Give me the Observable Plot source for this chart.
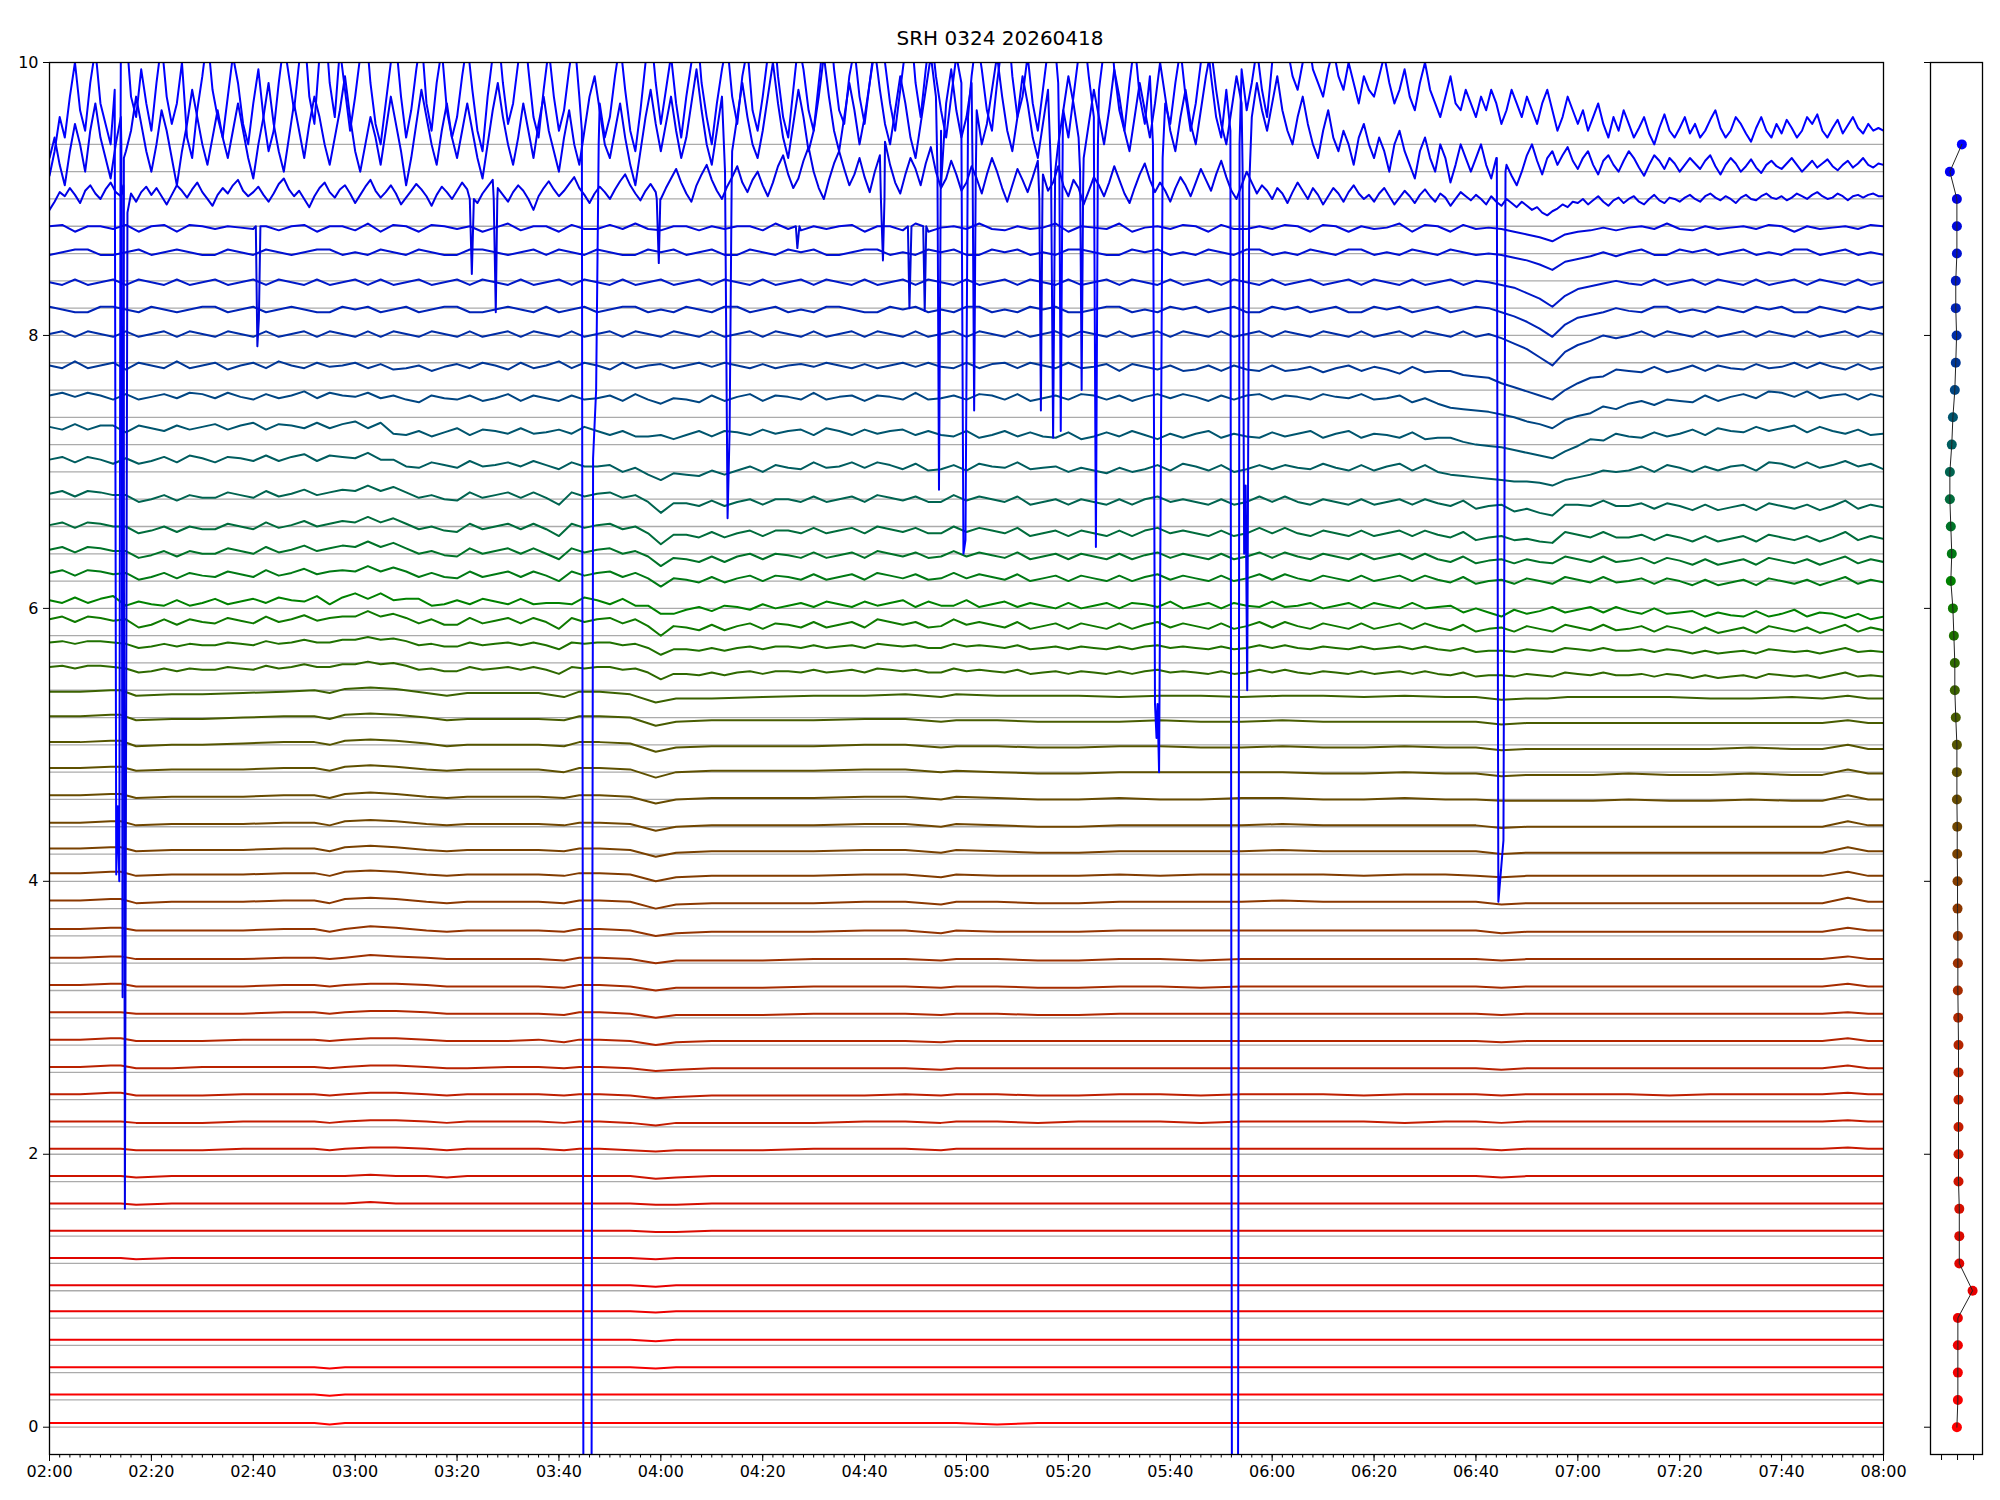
<!DOCTYPE html>
<html><head><meta charset="utf-8">
<script src="https://cdn.jsdelivr.net/npm/d3@7"></script>
<script src="https://cdn.jsdelivr.net/npm/@observablehq/plot@0.6"></script>
<style>
body{margin:0;background:#fff;font-family:"DejaVu Sans",sans-serif;}
#title{width:2000px;height:58px;box-sizing:border-box;padding-top:28px;line-height:20px;font-size:20px;text-align:center;color:#000;}
#row{display:flex;width:2000px;height:1442px;}
#main svg,#side svg{overflow:visible;}
</style></head><body>
<div id="title">SRH 0324 20260418</div>
<div id="row"><div id="main"></div><div id="side"></div></div>
<script>
// ---- sample times (minutes after 02:00) ----
const timesLow = [0,6,12,14,17,24,30,38,46,52,55,58,63,68,74,78,82,90,96,101,104,108,114,119,123,130,140,150,160,168,175,178,186,194,202,210,218,226,234,242,250,258,266,274,280,285,290,294,298,303,310,318,326,334,342,348,353,357,360];
const timesMid = d3.range(0, 361, 2.5);
const timesTop = d3.range(0, 361, 1);

// ---- tick labels ----
const xTickMinutes = [0,20,40,60,80,100,120,140,160,180,200,220,240,260,280,300,320,340,360];
const xTickLabels = ["02:00","02:20","02:40","03:00","03:20","03:40","04:00","04:20","04:40","05:00","05:20","05:40","06:00","06:20","06:40","07:00","07:20","07:40","08:00"];
const xMinorMinutes = d3.range(0, 361, 2);
const yTicks = [0,2,4,6,8,10];

// ---- channel baselines ----
const baselines = [0,0.2,0.4,0.6,0.8,1.0,1.2,1.4,1.6,1.8,2.0,2.2,2.4,2.6,2.8,3.0,3.2,3.4,3.6,3.8,4.0,4.2,4.4,4.6,4.8,5.0,5.2,5.4,5.6,5.8,6.0,6.2,6.4,6.6,6.8,7.0,7.2,7.4,7.6,7.8,8.0,8.2,8.4,8.6,8.8,9.0,9.2,9.4];

// ---- channels 0..27 on timesLow: deviation from baseline, hundredths ----
const tracesLow = [
[3,3,3,3,3,3,3,3,3,3, 2,3,3,3,3,3,3,3,3,3, 3,3,3,3,3,3,3,3,3,3, 3,3,2,3,3,3,3,3,3,3, 3,3,3,3,3,3,3,3,3,3, 3,3,3,3,3,3,3,3,3],
[4,4,4,4,4,4,4,4,4,4, 3,4,4,4,4,4,4,4,4,4, 4,4,4,4,4,4,4,4,4,4, 4,4,4,4,4,4,4,4,4,4, 4,4,4,4,4,4,4,4,4,4, 4,4,4,4,4,4,4,4,4],
[4,4,4,4,4,4,4,4,4,4, 3,4,4,4,4,4,4,4,4,4, 4,4,4,3,4,4,4,4,4,4, 4,4,4,4,4,4,4,4,4,4, 4,4,4,4,4,4,4,4,4,4, 4,4,4,4,4,4,4,4,4],
[4,4,4,4,4,4,4,4,4,4, 4,4,4,4,4,4,4,4,4,4, 4,4,4,3,4,4,4,4,4,4, 4,4,4,4,4,4,4,4,4,4, 4,4,4,4,4,4,4,4,4,4, 4,4,4,4,4,4,4,4,4],
[5,5,5,5,5,5,5,5,5,5, 5,5,5,5,5,5,5,5,5,5, 5,5,5,4,5,5,5,5,5,5, 5,5,5,5,5,5,5,5,5,5, 5,5,5,5,5,5,5,5,5,5, 5,5,5,5,5,5,5,5,5],
[4,4,4,4,4,4,4,4,4,4, 4,4,4,4,4,4,4,4,4,4, 4,4,4,3,4,4,4,4,4,4, 4,4,4,4,4,4,4,4,4,4, 4,4,4,4,4,4,4,4,4,4, 4,4,4,4,4,4,4,4,4],
[4,4,4,4,3,4,4,4,4,4, 4,4,4,4,4,4,4,4,4,4, 4,4,4,3,4,4,4,4,4,4, 4,4,4,4,4,4,4,4,4,4, 4,4,4,4,4,4,4,4,4,4, 4,4,4,4,4,4,4,4,4],
[4,4,4,4,4,4,4,4,4,4, 4,4,4,4,4,4,4,4,4,4, 4,4,4,3,3,4,4,4,4,4, 4,4,4,4,4,4,4,4,4,4, 4,4,4,4,4,4,4,4,4,4, 4,4,4,4,4,4,4,4,4],
[4,4,4,4,3,4,4,4,4,4, 4,4,5,4,4,4,4,4,4,4, 4,4,4,3,3,4,4,4,4,4, 4,4,4,4,4,4,4,4,4,4, 4,4,4,4,4,4,4,4,4,4, 4,4,4,4,4,4,4,4,4],
[4,4,4,4,3,4,4,4,4,4, 4,4,5,4,4,3,4,4,4,4, 4,4,4,2,3,4,4,4,4,4, 4,4,4,4,4,4,4,4,4,4, 4,4,4,4,4,3,4,4,4,4, 4,4,4,4,4,4,4,4,4],
[4,4,4,4,3,3,3,4,4,4, 3,4,5,5,4,3,4,4,4,3, 4,4,3,2,3,3,3,4,4,4, 3,4,4,4,4,4,4,4,4,4, 4,4,4,4,4,3,4,4,4,4, 4,4,4,4,4,4,5,4,4],
[4,4,4,4,3,3,3,4,4,4, 3,4,5,5,4,3,4,4,4,3, 4,4,3,1,3,3,3,3,4,4, 3,4,4,3,4,4,4,3,4,4, 4,4,3,4,4,3,4,4,4,4, 4,4,4,4,4,4,5,4,4],
[4,4,5,5,3,3,3,4,4,4, 3,4,5,5,4,3,4,4,4,3, 4,4,3,1,2,3,3,3,3,4, 3,4,4,3,3,4,4,3,4,4, 4,3,4,4,4,3,4,4,4,4, 4,3,4,4,4,4,5,4,4],
[4,4,5,5,3,3,4,4,4,4, 3,4,5,5,4,3,3,4,4,3, 4,4,3,1,2,3,3,3,3,3, 2,3,3,3,3,3,3,3,3,3, 3,3,3,3,3,2,3,3,3,3, 3,3,3,3,3,3,5,3,3],
[4,4,5,5,3,3,3,4,4,4, 3,4,5,5,4,3,3,3,4,2, 4,4,3,0,2,3,3,3,3,3, 2,3,3,3,3,3,3,3,3,3, 3,3,3,3,3,2,3,3,3,3, 3,3,3,3,3,3,5,3,3],
[4,4,4,4,3,3,3,3,4,4, 3,4,5,5,4,3,3,3,3,2, 4,4,3,0,2,2,2,3,3,3, 2,3,3,2,2,3,3,3,3,3, 3,3,3,3,3,2,3,3,3,3, 3,3,3,3,3,3,4,3,3],
[4,4,5,5,3,3,3,3,4,4, 3,4,5,5,4,3,3,3,3,2, 4,4,3,0,2,2,2,3,3,3, 2,3,3,2,2,3,3,2,3,3, 3,3,3,3,3,2,3,3,3,3, 3,3,3,3,3,3,5,3,3],
[4,4,5,5,3,3,3,3,4,4, 3,4,6,5,4,3,3,3,3,2, 4,4,3,0,2,2,2,3,3,3, 2,3,3,2,2,3,3,2,3,3, 3,3,3,3,3,2,3,3,3,3, 3,3,3,3,3,3,5,3,3],
[5,5,6,6,4,4,4,4,5,5, 3,5,7,6,4,3,4,4,4,3, 5,5,4,0,2,3,3,3,4,4, 2,4,3,3,3,4,4,4,4,4, 4,4,4,4,4,2,3,3,3,3, 3,3,3,3,3,3,6,4,4],
[6,6,7,7,4,5,5,5,6,6, 4,7,8,7,5,4,5,5,5,4, 6,6,5,0,3,4,4,4,5,5, 3,5,5,4,4,5,5,5,5,6, 5,5,5,5,5,3,4,4,4,4, 4,4,4,4,4,4,8,5,5],
[6,6,7,7,4,5,5,5,6,6, 4,7,8,7,5,4,5,5,5,4, 6,6,5,0,3,4,4,4,5,5, 3,5,4,4,4,5,4,5,5,5, 5,4,5,5,4,3,4,4,4,4, 4,4,4,4,4,4,7,4,4],
[4,4,5,5,2,3,3,3,4,4, 2,5,6,5,3,2,3,3,3,2, 4,4,3,-2,1,2,2,2,3,3, 1,3,2,1,1,2,2,2,2,3, 2,2,2,2,2,0,1,1,1,1, 1,1,1,1,1,1,5,2,2],
[3,3,4,4,1,2,2,2,3,3, 1,4,5,4,2,1,2,2,2,1, 3,3,2,-3,0,1,1,1,2,2, 0,2,1,0,0,1,1,1,1,2, 1,1,1,1,1,-1,0,0,0,0, 0,0,0,0,0,0,4,1,1],
[3,3,4,4,1,2,2,2,3,3, 1,4,5,4,2,1,2,2,2,1, 3,3,2,-3,0,1,1,1,2,2, 0,2,1,0,0,1,0,0,1,1, 0,0,1,0,0,-1,-1,-1,-1,-1, 0,-1,-1,0,-1,-1,3,0,0],
[3,3,4,4,1,2,2,2,3,3, 1,4,5,4,2,1,2,2,2,0, 3,3,2,-4,0,1,1,1,2,2, 0,1,0,-1,-1,0,0,0,0,0, -1,-1,0,-1,-1,-3,-2,-2,-2,-2, -1,-2,-2,-1,-2,-2,2,-1,-1],
[2,2,3,3,-1,0,0,1,2,2, 0,3,4,3,1,-1,0,0,0,-1, 2,2,1,-5,-2,-1,-1,-1,0,0, -2,-1,-1,-2,-2,-1,-1,-2,-2,-1, -2,-2,-1,-2,-2,-4,-3,-3,-3,-3, -3,-3,-3,-2,-3,-3,0,-3,-3],
[1,1,2,2,-2,-1,-1,0,1,1, -1,2,3,2,0,-2,-1,-1,-1,-2, 1,1,0,-6,-3,-2,-2,-2,-1,-1, -3,-2,-2,-3,-3,-3,-2,-3,-3,-2, -3,-3,-3,-3,-3,-5,-4,-4,-4,-4, -4,-4,-4,-4,-4,-4,-2,-4,-4],
[-1,-1,0,0,-4,-3,-3,-2,-1,0, -2,1,2,1,-2,-4,-2,-2,-2,-5, -1,-1,-3,-9,-6,-6,-5,-4,-4,-3, -5,-3,-4,-4,-4,-5,-4,-4,-5,-4, -4,-5,-4,-5,-5,-7,-6,-6,-5,-5, -5,-5,-6,-6,-5,-6,-4,-6,-6]
];

// ---- channels 28..44 on timesMid (every 2.5 min) ----
const tracesMid = [
[-3,-2,-4,-2,-2,-3,-4,-7,-6,-4, -6,-4,-5,-5,-3,-4,-5,-2,-4,-3, -1,-3,-3,-1,-1,1,-1,0,-2,-5, -4,-6,-6,-3,-5,-4,-3,-5,-3,-5, -8,-3,-4,-3,-3,-5,-4,-7,-12,-8, -8,-9,-7,-9,-7,-6,-8,-6,-6,-7, -5,-7,-6,-5,-7,-4,-5,-6,-5,-7, -7,-4,-6,-5,-6,-7,-5,-8,-7,-6, -8,-6,-7,-8,-6,-8,-6,-5,-7,-6, -7,-8,-6,-8,-7,-5,-7,-5,-7,-8, -6,-7,-8,-6,-8,-7,-6,-8,-6,-8, -9,-7,-10,-9,-9,-10,-8,-9,-10,-7, -8,-9,-7,-9,-9,-8,-10,-8,-9,-11, -9,-11,-10,-9,-11,-8,-9,-10,-9,-11, -9,-7,-10,-9,-10],
[-5,-4,-6,-4,-4,-5,-6,-9,-8,-6, -8,-6,-7,-7,-5,-6,-7,-4,-6,-5, -3,-5,-5,-3,-3,-1,-3,-2,-4,-7, -6,-8,-8,-5,-7,-6,-5,-7,-5,-7, -10,-5,-6,-5,-5,-7,-6,-9,-14,-10, -10,-11,-9,-11,-9,-8,-10,-8,-8,-9, -7,-9,-8,-7,-9,-6,-7,-8,-7,-9, -9,-6,-8,-7,-8,-9,-7,-10,-9,-8, -10,-8,-9,-10,-8,-10,-8,-7,-9,-8, -9,-10,-8,-10,-9,-7,-9,-7,-9,-10, -8,-9,-10,-8,-10,-9,-8,-10,-8,-10, -11,-9,-12,-11,-11,-12,-10,-11,-12,-9, -10,-11,-9,-11,-11,-10,-12,-10,-11,-13, -11,-13,-12,-11,-13,-10,-11,-12,-11,-13, -11,-9,-12,-11,-12],
[-8,-6,-10,-6,-7,-9,-8,-14,-12,-8, -12,-8,-10,-11,-7,-9,-11,-6,-10,-8, -5,-9,-7,-6,-6,-2,-6,-4,-7,-11, -8,-12,-12,-7,-11,-9,-7,-11,-7,-10, -15,-7,-10,-8,-7,-11,-8,-13,-20,-13, -14,-16,-12,-16,-13,-11,-15,-11,-12,-14, -10,-14,-12,-10,-14,-8,-10,-12,-10,-14, -13,-8,-12,-10,-12,-14,-10,-15,-13,-11, -15,-11,-13,-15,-11,-15,-12,-10,-14,-11, -13,-15,-11,-15,-13,-10,-14,-10,-13,-15, -11,-13,-15,-11,-15,-13,-11,-15,-11,-14, -16,-12,-17,-15,-14,-17,-13,-15,-17,-12, -14,-16,-12,-16,-15,-13,-17,-13,-15,-18, -14,-18,-16,-14,-18,-13,-15,-17,-14,-18, -15,-12,-17,-14,-16],
[-14,-16,-12,-16,-13,-11,-18,-15,-17,-18, -14,-18,-16,-13,-17,-15,-13,-16,-12,-14, -15,-11,-17,-12,-9,-13,-9,-14,-13,-13, -18,-17,-14,-17,-13,-15,-17,-13,-17,-16, -16,-17,-12,-14,-17,-13,-18,-18,-24,-24, -21,-19,-22,-18,-19,-21,-17,-20,-18,-16, -19,-15,-17,-19,-15,-18,-16,-14,-19,-15, -18,-18,-14,-19,-17,-15,-19,-16,-18,-20, -16,-20,-18,-16,-20,-16,-17,-19,-15,-20, -18,-16,-20,-16,-18,-19,-15,-19,-18,-16, -20,-18,-16,-20,-16,-18,-20,-16,-20,-19, -18,-23,-20,-23,-26,-21,-24,-22,-19,-23, -21,-19,-23,-19,-22,-24,-20,-24,-23,-22, -26,-23,-25,-26,-22,-26,-24,-21,-26,-23, -24,-27,-24,-28,-26],
[-14,-12,-16,-12,-13,-15,-14,-19,-17,-14, -18,-14,-16,-17,-13,-15,-17,-12,-16,-14, -11,-15,-13,-12,-13,-9,-13,-10,-13,-17, -14,-17,-18,-13,-17,-15,-13,-17,-13,-16, -20,-13,-16,-14,-13,-17,-14,-18,-24,-18, -19,-21,-17,-21,-18,-16,-20,-16,-17,-19, -15,-19,-17,-15,-19,-14,-16,-18,-15,-19, -18,-14,-18,-15,-17,-19,-15,-20,-18,-16, -20,-16,-18,-20,-16,-20,-17,-15,-19,-16, -18,-20,-16,-20,-18,-15,-19,-15,-18,-20, -16,-18,-20,-16,-20,-18,-16,-20,-16,-19, -21,-17,-22,-20,-19,-22,-18,-20,-22,-17, -19,-21,-17,-21,-20,-18,-22,-18,-20,-23, -19,-23,-21,-19,-23,-18,-20,-22,-19,-23, -20,-17,-22,-19,-21],
[-17,-15,-19,-15,-16,-18,-18,-23,-21,-18, -22,-18,-20,-20,-16,-18,-20,-15,-19,-17, -14,-18,-16,-14,-15,-11,-15,-12,-16,-20, -18,-21,-22,-16,-20,-18,-16,-20,-16,-20, -24,-16,-19,-17,-16,-20,-18,-22,-29,-23, -24,-26,-22,-26,-22,-20,-24,-20,-21,-23, -19,-23,-21,-19,-23,-18,-20,-22,-19,-23, -22,-18,-22,-19,-21,-23,-19,-24,-22,-20, -24,-20,-22,-24,-20,-24,-21,-19,-23,-20, -22,-24,-20,-24,-22,-19,-23,-19,-22,-24, -20,-22,-24,-20,-24,-22,-20,-24,-20,-24, -26,-22,-27,-25,-24,-27,-24,-26,-27,-22, -24,-26,-22,-26,-25,-23,-27,-23,-25,-28, -24,-28,-26,-24,-28,-23,-25,-27,-24,-28, -25,-22,-27,-24,-26],
[-19,-17,-21,-17,-18,-20,-20,-25,-23,-20, -24,-20,-22,-22,-18,-20,-22,-17,-21,-19, -16,-20,-18,-16,-17,-13,-17,-14,-18,-22, -20,-23,-24,-18,-22,-20,-18,-22,-18,-22, -27,-18,-21,-19,-18,-22,-20,-25,-33,-26, -26,-28,-24,-28,-25,-23,-27,-23,-23,-25, -21,-25,-23,-21,-25,-20,-22,-24,-21,-25, -25,-20,-24,-21,-23,-25,-21,-27,-25,-23, -27,-23,-25,-27,-23,-27,-23,-21,-25,-23, -25,-27,-23,-27,-25,-21,-25,-21,-25,-27, -23,-25,-27,-23,-27,-25,-23,-27,-23,-26, -28,-24,-30,-28,-27,-30,-29,-31,-32,-24, -26,-28,-24,-28,-28,-26,-30,-26,-28,-31, -27,-31,-29,-27,-31,-26,-28,-30,-27,-31, -28,-24,-30,-27,-29],
[-16,-14,-18,-14,-15,-17,-17,-22,-20,-17, -21,-17,-19,-19,-15,-17,-19,-14,-18,-16, -13,-17,-15,-13,-14,-10,-14,-11,-15,-19, -17,-20,-21,-15,-19,-17,-15,-19,-15,-19, -24,-15,-18,-16,-15,-19,-17,-22,-30,-23, -23,-25,-21,-25,-22,-20,-24,-20,-20,-22, -18,-22,-20,-18,-22,-17,-19,-21,-18,-22, -22,-17,-21,-18,-20,-22,-18,-24,-22,-20, -24,-20,-22,-24,-20,-24,-20,-18,-22,-20, -22,-24,-20,-24,-22,-18,-22,-18,-22,-24, -20,-22,-24,-20,-24,-22,-20,-24,-20,-23, -25,-21,-27,-25,-24,-29,-27,-30,-32,-24, -24,-25,-21,-25,-25,-23,-27,-23,-25,-28, -24,-28,-26,-24,-28,-23,-25,-27,-24,-28, -25,-21,-27,-24,-26],
[-11,-9,-13,-9,-11,-14,-10,-14,-12,-9, -13,-8,-10,-13,-9,-10,-12,-8,-12,-9, -7,-12,-8,-9,-10,-6,-11,-11,-16,-17, -13,-15,-17,-12,-16,-15,-13,-16,-12,-15, -18,-13,-16,-16,-15,-20,-17,-22,-26,-21, -22,-23,-19,-22,-19,-16,-20,-15,-17,-18, -13,-17,-16,-13,-17,-13,-15,-18,-14,-19, -18,-15,-19,-14,-16,-17,-13,-18,-17,-16, -20,-17,-19,-21,-17,-20,-18,-15,-19,-14, -16,-19,-15,-20,-18,-15,-18,-15,-17,-18, -14,-17,-19,-15,-19,-16,-14,-19,-15,-20, -22,-23,-24,-25,-26,-27,-27,-28,-30,-26, -24,-22,-19,-20,-19,-16,-20,-15,-17,-20, -16,-19,-16,-15,-19,-13,-14,-17,-13,-17, -15,-12,-16,-14,-18],
[-7,-9,-5,-9,-6,-6,-11,-6,-8,-10, -6,-9,-7,-5,-9,-6,-4,-9,-5,-6, -8,-4,-8,-5,-3,-8,-4,-12,-13,-10, -14,-11,-8,-13,-9,-10,-12,-8,-12,-11, -9,-12,-7,-10,-13,-10,-14,-14,-13,-16, -13,-10,-14,-10,-11,-13,-9,-12,-10,-9, -13,-8,-10,-13,-9,-12,-10,-9,-13,-10, -13,-14,-10,-15,-13,-10,-14,-11,-14,-15, -11,-16,-14,-11,-14,-10,-13,-16,-12,-15, -12,-10,-15,-12,-14,-15,-11,-14,-12,-10, -15,-12,-10,-15,-12,-13,-15,-11,-16,-15, -15,-18,-20,-21,-22,-24,-26,-28,-30,-25, -21,-16,-17,-12,-14,-15,-11,-14,-12,-9, -13,-8,-10,-11,-7,-10,-8,-6,-11,-7, -10,-12,-9,-13,-12],
[-4,-2,-5,-2,-4,-7,-3,-7,-5,-3, -6,-2,-3,-6,-2,-5,-7,-3,-6,-4, -1,-6,-2,-4,-5,-2,-6,-4,-7,-9, -4,-6,-7,-4,-8,-6,-3,-8,-4,-6, -8,-4,-7,-6,-4,-8,-3,-7,-10,-6, -7,-9,-4,-8,-5,-3,-8,-4,-5,-7, -2,-7,-5,-4,-8,-4,-5,-7,-2,-7, -6,-4,-7,-3,-4,-7,-3,-8,-6,-4, -7,-3,-4,-7,-4,-8,-5,-3,-6,-3, -5,-8,-4,-7,-4,-3,-7,-4,-5,-7, -3,-5,-6,-3,-7,-6,-4,-9,-6,-10, -13,-14,-15,-16,-18,-20,-23,-25,-28,-22, -19,-17,-12,-14,-10,-8,-11,-7,-8,-9, -4,-8,-5,-3,-6,-1,-2,-5,-1,-6, -4,-3,-7,-3,-5],
[-2,-4,1,-4,-2,0,-5,0,-2,-4, 1,-4,-2,0,-5,-2,0,-4,1,-2, -4,0,-3,-2,0,-4,-1,-5,-4,-2, -6,-3,-1,-4,0,-2,-5,0,-4,-2, 1,-4,0,-2,-5,0,-4,-2,-1,-4, -2,0,-3,0,-2,-4,-1,-4,-2,-1, -3,0,-2,-4,-1,-4,-2,0,-3,0, -3,-4,0,-4,-1,0,-4,0,-2,-4, 0,-4,-3,-1,-6,-1,-3,-5,-2,-6, -5,-2,-6,-2,-5,-6,-2,-6,-5,-3, -7,-4,-2,-6,-3,-5,-8,-3,-7,-6, -6,-9,-10,-11,-15,-18,-21,-24,-27,-20, -15,-11,-10,-5,-6,-7,-3,-7,-5,-2, -6,-2,-4,-5,-1,-4,-3,0,-4,0, -3,-5,-1,-5,-3],
[1,3,-1,3,1,-1,3,-1,1,3, -1,3,1,-1,3,1,-1,3,-1,1, 3,-1,3,1,-1,3,-1,3,1,-1, 3,1,-1,3,-1,1,3,-1,3,1, -1,3,-1,1,3,-1,3,1,-1,3, 1,-1,3,-1,1,3,-1,3,1,-1, 3,-1,1,3,-1,3,1,-1,3,-1, 1,3,-1,3,1,-1,3,-1,1,3, -1,3,1,-1,3,-1,1,3,-1,3, 1,-1,3,-1,1,3,-1,3,1,-1, 3,1,-1,3,-1,1,3,-1,3,1, -1,3,-1,1,-2,-6,-10,-16,-22,-12, -7,-4,0,-2,0,3,-1,3,1,-1, 3,-1,1,3,-1,3,1,-1,3,-1, 1,3,-1,3,1],
[1,-1,-3,-3,1,1,-1,-3,1,-1, -3,-1,1,1,-3,-1,1,-3,-1,1, -1,-3,-3,1,-1,1,-3,-1,1,-3, -1,1,1,-3,-3,-1,1,-1,-3,1, -3,-1,1,-3,-1,1,1,-3,-1,-3, 1,-1,-3,1,1,-3,-1,1,-3,-1, -3,1,1,-1,-3,-3,1,-1,1,-3, -1,-3,1,1,-3,-1,-3,1,-1,1, -3,-3,-1,1,1,-3,-1,-3,1,-1, 1,-3,-1,1,-3,-3,1,-1,1,-3, -1,1,-3,-3,1,-1,1,-3,-1,1, -3,-1,1,0,-3,-6,-10,-15,-21,-12, -7,-5,-3,0,-2,-3,1,1,-3,-1, -3,1,-1,-3,1,-1,1,-3,-3,1, -1,-3,1,-1,1],
[-1,-3,1,-3,-1,1,-3,1,-1,-3, 1,-3,-1,1,-3,-1,1,-3,1,-1, -3,1,-3,-1,1,-3,1,-3,-1,1, -3,-1,1,-3,1,-1,-3,1,-3,-1, 1,-3,1,-1,-3,1,-3,-1,1,-3, -1,1,-3,1,-1,-3,1,-3,-1,1, -3,1,-1,-3,1,-3,-1,1,-3,1, -1,-3,1,-3,-1,1,-3,1,-1,-3, 1,-3,-1,1,-3,1,-1,-3,1,-3, -1,1,-3,1,-1,-3,1,-3,-1,1, -3,-1,1,-3,1,-1,-3,1,-3,-1, 1,-3,0,-1,-3,-5,-9,-13,-19,-11, -6,-4,-2,0,-2,-3,1,-3,-1,1, -3,1,-1,-3,1,-3,-1,1,-3,1, -1,-3,1,-3,-1],
[-1,1,3,3,-1,-1,1,3,-1,1, 3,1,-1,-1,3,1,-1,3,1,-1, 1,3,3,-1,1,-1,3,1,-1,3, 1,-1,-1,3,3,1,-1,1,3,-1, 3,1,-1,3,1,-1,-1,3,1,3, -1,1,3,-1,-1,3,1,-1,3,1, 3,-1,-1,1,3,3,-1,1,-1,3, 1,3,-1,-1,3,1,3,-1,1,-1, 3,3,1,-1,-1,3,1,3,-1,1, -1,3,1,-1,3,3,-1,1,-1,3, 1,-1,3,3,-1,1,-1,3,1,-1, 3,1,-1,0,-1,-3,-5,-8,-12,-6, -4,-2,1,-2,1,3,-1,-1,3,1, 3,-1,1,3,-1,1,-1,3,3,-1, 1,3,-1,1,-1],
[0,1,-4,0,0,-2,1,-4,0,1, -4,1,0,-2,0,-1,-2,0,-3,0, 1,-4,0,0,-3,2,-4,1,0,-4, 1,0,-2,0,-4,-1,2,-3,0,0, -4,1,-2,-2,1,-2,2,-2,-3,0, 0,-3,0,-2,0,0,-3,2,-2,-3, 0,-2,0,1,-4,0,0,-3,2,-4, -1,0,-2,2,-2,-3,0,-2,-1,2, -4,0,-1,-2,2,-4,-1,0,-2,1, 0,-4,1,-2,-2,0,-2,1,0,-4, 1,0,-4,0,-2,-1,2,-4,1,0, -4,1,-2,-1,-2,-4,-6,-8,-11,-6, -4,-3,-1,-3,-1,0,-2,2,-2,-3, 0,-2,-1,0,-2,1,0,-4,0,-2, -1,0,-2,1,0]
];

// ---- channels 45..47 on timesTop (every minute) ----
const tracesTop = [
[-8,-2,5,2,8,3,-3,6,10,4,0,7,12,5,2,8,4,-2,5,9,
 3,8,2,-4,3,10,6,1,7,12,5,0,-5,3,8,4,10,14,6,2,
 5,9,3,-2,4,11,15,7,2,6,0,-6,2,8,12,5,1,7,10,4,
 -3,3,9,14,6,1,5,10,4,-4,1,6,11,7,2,-5,3,9,5,0,
 6,12,7,2,-3,4,9,14,8,3,-2,5,10,6,0,-8,2,8,13,7,
 2,6,11,16,8,3,-3,4,9,5,0,7,13,18,10,4,-1,6,11,5,
 0,8,15,22,12,4,-2,10,18,25,14,6,0,9,16,24,12,5,14,20,
 10,2,12,24,32,18,8,15,28,38,20,8,0,14,26,35,22,10,18,30,
 16,5,20,32,42,25,12,4,18,30,22,10,26,38,20,8,15,28,18,6,
 12,24,15,4,18,30,20,8,-2,10,22,14,5,16,28,18,6,12,24,10,
 2,14,8,-4,6,16,10,2,12,24,14,4,-3,8,18,26,14,5,12,6,
 -2,8,16,10,2,12,22,14,6,18,28,16,6,0,10,20,12,4,10,6,
 0,8,4,-3,5,12,6,0,8,3,-4,2,8,4,-2,5,10,4,0,3,
 -2,4,8,2,-4,1,6,2,-3,3,7,2,-2,4,1,-5,0,5,2,-1,
 3,0,-4,2,-2,-5,0,-3,-6,-2,-5,-8,-6,-10,-12,-9,-7,-4,-6,-2,
 -3,0,-4,-1,2,-2,-5,-1,1,-3,0,2,-2,-4,0,3,-1,-3,1,0,
 -2,1,3,0,-2,2,4,1,-1,2,0,-3,1,3,0,-1,2,4,1,0,
 2,-1,1,4,2,0,3,5,2,0,1,4,2,-1,2,3,1,3,4,2,
 2],
[10,25,5,-10,15,35,20,0,30,50,25,10,-5,20,40,15,30,55,35,15,
 0,20,45,30,10,-10,15,35,60,40,20,5,25,45,25,10,30,50,30,10,
 -5,20,40,65,35,15,0,25,50,30,10,35,55,40,20,5,25,45,70,40,
 15,0,20,40,25,5,30,55,35,15,-10,10,35,60,40,20,5,30,50,25,
 10,30,50,30,10,-5,20,45,65,40,20,5,25,50,30,10,35,55,30,15,
 0,25,45,20,5,30,55,70,45,20,10,30,50,25,5,-10,15,40,60,35,
 15,35,55,30,10,25,50,75,45,20,5,30,55,35,15,40,65,40,20,10,
 30,55,80,50,25,10,35,60,40,15,30,55,85,55,30,15,40,65,45,20,
 40,65,90,60,35,20,45,70,50,25,10,35,60,85,55,30,50,75,45,25,
 40,65,45,20,35,60,85,55,30,15,40,70,50,25,10,35,60,40,20,45,
 70,50,25,10,35,60,40,20,45,75,55,30,15,40,65,45,25,50,80,55,
 30,15,40,60,35,20,45,70,90,60,35,20,45,70,50,25,40,65,45,30,
 50,70,45,30,20,40,55,35,20,10,30,45,25,15,30,20,5,25,35,20,
 10,25,15,0,20,30,15,5,-5,15,25,10,0,20,10,-8,5,20,10,0,
 10,20,5,-5,10,18,5,-3,-10,0,12,20,8,-2,10,15,5,12,18,8,
 2,10,15,5,-2,8,12,5,0,8,15,10,3,-3,5,12,8,2,10,6,
 0,5,10,6,2,8,12,4,-2,5,10,6,0,4,9,3,-1,5,8,4,
 2,6,10,5,0,4,8,3,6,9,4,1,5,8,3,6,10,5,3,6,
 5],
[-23,-5,20,5,35,60,25,10,45,70,30,15,0,40,65,85,35,20,55,30,
 10,45,75,35,15,30,60,5,-10,25,50,80,40,20,5,35,65,45,15,0,
 30,55,20,-5,10,45,75,50,25,60,85,35,15,65,95,45,20,70,40,10,
 35,65,90,45,15,0,30,60,75,35,5,25,55,80,30,10,45,70,25,5,
 20,50,75,40,10,-5,35,65,85,45,15,30,60,95,55,20,5,40,70,35,
 10,25,55,80,35,15,45,70,30,5,20,50,75,40,10,-5,25,60,85,45,
 15,40,65,30,5,35,60,90,45,20,0,30,55,75,35,15,50,70,25,10,
 35,65,95,50,20,5,40,75,55,25,10,45,80,100,55,25,15,50,70,35,
 15,45,75,105,60,30,10,40,70,90,45,20,55,85,50,25,5,35,65,45,
 20,50,80,55,25,10,45,75,95,50,20,35,65,30,10,40,70,90,45,25,
 5,35,65,85,50,20,40,70,100,55,25,10,45,75,35,15,50,80,60,30,
 15,45,70,35,10,30,60,85,50,20,5,40,75,95,55,25,45,70,40,20,
 60,85,105,70,50,40,60,80,55,45,35,55,70,50,40,60,45,30,50,40,
 35,50,65,45,30,40,55,35,25,45,60,40,30,20,35,50,30,25,40,30,
 20,35,25,40,30,15,25,40,30,20,35,25,15,30,40,25,10,20,35,25,
 15,25,10,20,30,15,5,20,10,25,15,5,12,20,8,0,12,22,10,5,
 12,20,8,15,5,10,18,25,12,5,10,20,15,8,2,12,20,10,5,15,
 8,18,12,5,10,20,15,22,10,5,12,18,8,14,20,12,8,15,10,12,
 10]
];

// ---- spike events: [channel, [[minute, value], ...]] ----
const spikeEvents = [
[47, [[12.8,9.8],[13.1,4.05],[13.4,4.55],[13.7,4.0],[13.95,9.5]]],
[47, [[104.5,9.5],[104.8,-0.5],[106.4,-0.5],[106.7,7.1],[107.3,7.6],[107.8,9.4]]],
[47, [[179.0,9.5],[179.4,6.4],[179.8,6.5],[180.3,9.6]]],
[47, [[198.2,9.4],[198.5,7.3],[198.9,9.5]]],
[47, [[205.0,9.5],[205.4,6.45],[205.8,9.4]]],
[47, [[216.6,9.4],[217.0,5.3],[217.3,5.05],[217.5,5.3],[217.8,4.8],[218.5,9.3]]],
[47, [[231.8,9.5],[232.1,-0.5],[233.3,-0.5],[233.6,9.4]]],
[46, [[14.1,9.4],[14.35,3.15],[14.6,9.3]]],
[46, [[132.6,9.2],[133.1,6.66],[133.5,7.3],[133.9,9.1]]],
[46, [[174.3,9.2],[174.6,6.87],[175.0,9.1]]],
[46, [[181.2,9.2],[181.5,7.45],[181.8,9.1]]],
[46, [[196.6,9.2],[197.0,7.25],[197.4,9.2]]],
[46, [[202.3,9.2],[202.6,7.6],[202.9,9.1]]],
[46, [[234.2,9.2],[234.5,6.4],[234.8,6.9],[235.1,5.4],[235.5,9.1]]],
[46, [[284.1,9.3],[284.4,3.85],[285.4,4.3],[285.8,9.2]]],
[45, [[14.5,9.1],[14.8,1.6],[15.3,8.9]]],
[45, [[82.5,9.0],[82.9,8.45],[83.3,9.0]]],
[45, [[87.2,9.0],[87.6,8.17],[87.9,9.0]]],
[45, [[119.2,9.0],[119.6,8.53],[119.9,9.0]]],
[45, [[163.2,9.0],[163.6,8.55],[163.9,9.0]]],
[45, [[194.3,9.0],[194.6,7.45],[194.9,9.0]]],
[44, [[40.5,8.8],[40.8,7.92],[41.1,8.12],[41.4,8.8]]],
[44, [[146.5,8.8],[146.8,8.64],[147.2,8.8]]],
[44, [[168.5,8.8],[168.8,8.2],[169.2,8.8]]],
[44, [[171.5,8.8],[171.8,8.18],[172.1,8.8]]]
];

// ---- side panel values per channel ----
const sideX = [-0.04,0.02,0.02,0.02,0.02,0.94,0.11,0.11,0.11,0.06, 0.06,0.06,0.06,0.06,0.06,0.04,0.02,0.02,0.02,0, 0,-0.02,-0.02,-0.04,-0.04,-0.04,-0.11,-0.17,-0.17,-0.23, -0.29,-0.42,-0.36,-0.42,-0.48,-0.48,-0.36,-0.29,-0.17,-0.11, -0.06,-0.11,-0.11,-0.04,-0.04,-0.04,-0.48,0.27];

// ---- colours ----
const colorStops = [0,1.0,2.0,3.0,4.0,5.0,5.6,6.2,6.6,7.0,7.4,7.8,8.4,9.0,9.4];
const colorValues = ["#ff0000","#e60000","#c81900","#af2800","#823c00","#555500","#2e6900","#008200","#007328","#006450","#00556e","#003796","#0019c8","#0000e6","#0000ff"];

// ---- build rows ----
const rows = [];
function addTrace(ch, times, devs) {
  if (devs.length !== times.length) throw new Error("length mismatch ch " + ch + ": " + devs.length + " vs " + times.length);
  const base = baselines[ch];
  const events = spikeEvents.filter(e => e[0] === ch).map(e => e[1]);
  const inEvent = t => events.some(ev => t > ev[0][0] && t < ev[ev.length - 1][0]);
  const pts = [];
  times.forEach((t, i) => { if (!inEvent(t)) pts.push({ch, base, t, v: base + devs[i] / 100}); });
  events.forEach(ev => ev.forEach(([t, v]) => pts.push({ch, base, t, v})));
  pts.sort((a, b) => a.t - b.t);
  rows.push(...pts);
}
tracesLow.forEach((d, i) => addTrace(i, timesLow, d));
tracesMid.forEach((d, i) => addTrace(28 + i, timesMid, d));
tracesTop.forEach((d, i) => addTrace(45 + i, timesTop, d));

const colorOpt = {type: "linear", domain: colorStops, range: colorValues, interpolate: "rgb"};
const mainStyle = {fontFamily: "DejaVu Sans, sans-serif", fontSize: "16px", color: "black", background: "white", overflow: "visible"};
const sideStyle = {fontFamily: "DejaVu Sans, sans-serif", fontSize: "16px", color: "black", background: "transparent", overflow: "visible"};

const mainPlot = Plot.plot({
  width: 1900, height: 1442,
  marginLeft: 49, marginRight: 17, marginTop: 4, marginBottom: 46,
  style: mainStyle,
  x: {domain: [0, 360]},
  y: {domain: [-0.2, 10]},
  color: colorOpt,
  marks: [
    Plot.ruleY(baselines, {stroke: "#ababab", strokeWidth: 1.3}),
    Plot.line(rows, {x: "t", y: "v", z: "ch", stroke: "base", strokeWidth: 2, clip: true}),
    Plot.frame({stroke: "black", strokeWidth: 1.3}),
    Plot.axisX({ticks: xMinorMinutes, tickSize: 3.5, tickFormat: () => "", label: null}),
    Plot.axisX({ticks: xTickMinutes, tickSize: 7, tickPadding: 4, tickFormat: d => xTickLabels[xTickMinutes.indexOf(d)], label: null}),
    Plot.axisY({ticks: yTicks, tickSize: 6, tickPadding: 5, label: null})
  ]
});
document.getElementById("main").append(mainPlot);

const sideRows = baselines.map((b, i) => ({base: b, sx: sideX[i]}));
const sidePlot = Plot.plot({
  width: 100, height: 1442,
  marginLeft: 30, marginRight: 18, marginTop: 4, marginBottom: 46,
  style: sideStyle,
  x: {domain: [-1.69, 1.56]},
  y: {domain: [-0.2, 10]},
  color: colorOpt,
  marks: [
    Plot.dot(sideRows, {x: "sx", y: "base", fill: "base", r: 5}),
    Plot.line(sideRows, {x: "sx", y: "base", stroke: "#222", strokeWidth: 1}),
    Plot.frame({stroke: "black", strokeWidth: 1.3}),
    Plot.axisX({ticks: [-1, 0, 1], tickSize: 6, tickFormat: () => "", label: null}),
    Plot.axisY({ticks: yTicks, tickSize: 6, tickFormat: () => "", label: null})
  ]
});
document.getElementById("side").append(sidePlot);
</script></body></html>
